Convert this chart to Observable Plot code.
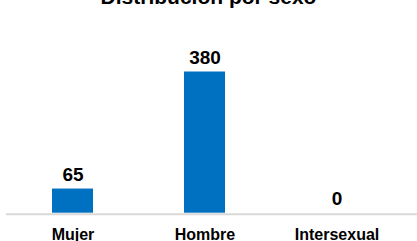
<!DOCTYPE html>
<html>
<head>
<meta charset="utf-8">
<script src="https://cdn.jsdelivr.net/npm/d3@7"></script>
<script src="https://cdn.jsdelivr.net/npm/@observablehq/plot@0.6"></script>
<style>
  html, body { margin: 0; padding: 0; background: #fff; overflow: hidden; }
  body { width: 417px; height: 241px; font-family: "Liberation Sans", Arial, sans-serif; }
  #title { margin-top: -15px; height: 24px; line-height: 24px; font-size: 21px; font-weight: bold; text-align: center; color: #000; white-space: nowrap; }
  svg { display: block; }
</style>
</head>
<body>
<div id="title">Distribución por sexo</div>
<div id="chart"></div>
<script>
const categories = ["Mujer", "Hombre", "Intersexual"];
const values = [65, 380, 0];

const data = categories.map((c, i) => ({category: c, value: values[i]}));

const chart = Plot.plot({
  width: 417,
  height: 232,
  marginLeft: 6,
  marginRight: 0,
  marginTop: 62.5,
  marginBottom: 28.3,
  style: {fontFamily: "'Liberation Sans', Arial, sans-serif", background: "#fff", color: "#000"},
  x: {domain: categories, range: [5.35, 404.05], paddingInner: 0.688, paddingOuter: 0.344, axis: null},
  y: {domain: [0, 380], axis: null},
  marks: [
    Plot.ruleY([0], {stroke: "#d9d9d9", strokeWidth: 2, dy: 1}),
    Plot.barY(data, {x: "category", y: "value", fill: "#0070C0"}),
    Plot.text(data, {x: "category", y: "value", text: d => String(d.value), lineAnchor: "bottom", dy: -8, fontSize: 19, fontWeight: "bold", fill: "#000"}),
    Plot.text(data, {x: "category", text: "category", frameAnchor: "bottom", lineAnchor: "top", dy: 15, fontSize: 16, fontWeight: "bold", fill: "#000"})
  ]
});
document.getElementById("chart").appendChild(chart);
</script>
</body>
</html>
